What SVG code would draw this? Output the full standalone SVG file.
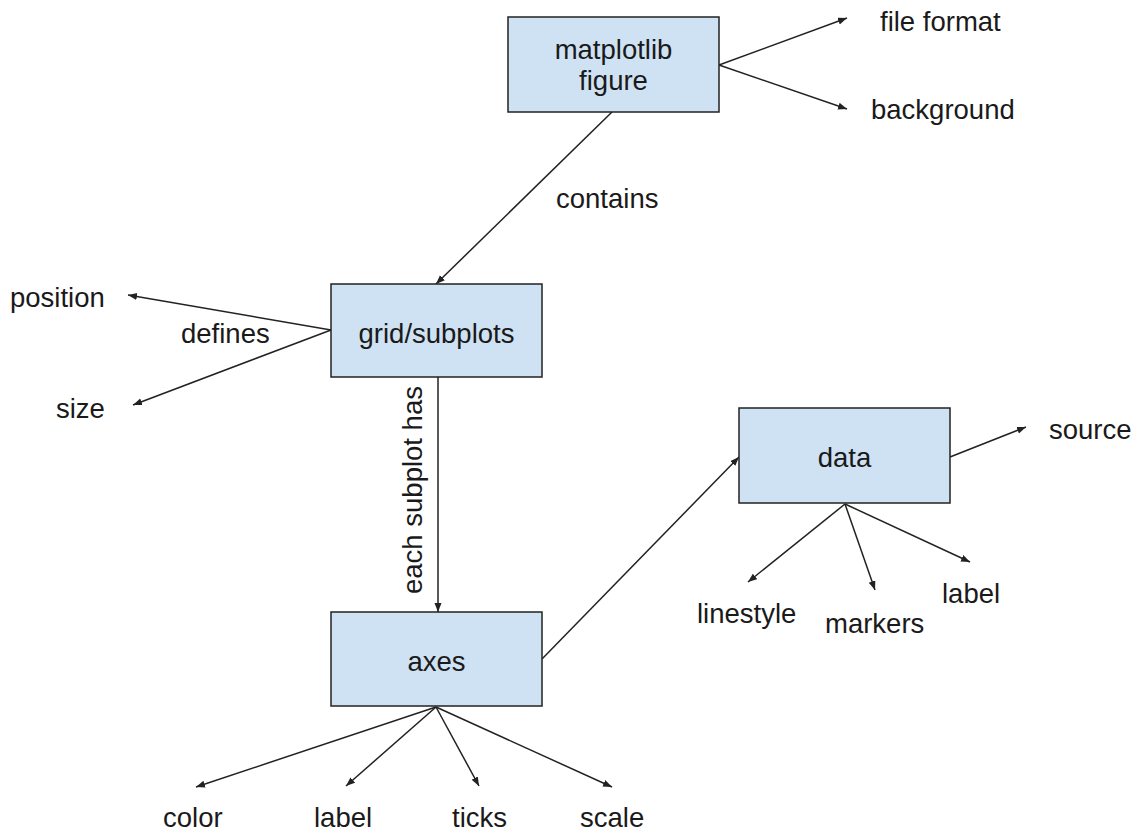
<svg xmlns="http://www.w3.org/2000/svg" width="1141" height="835" viewBox="0 0 1141 835">
<style>
.box{fill:#cfe2f3;stroke:#222;stroke-width:1.5}
.t{font-family:"Liberation Sans",Arial,sans-serif;font-size:27.5px;fill:#1a1a1a}
.c{text-anchor:middle}
.ln{stroke:#222;stroke-width:1.5;fill:none;marker-end:url(#ah)}
</style>
<defs>
<marker id="ah" markerUnits="userSpaceOnUse" markerWidth="10" markerHeight="8" refX="9" refY="3.5" orient="auto">
<path d="M0,0 L9,3.5 L0,7 z" fill="#222"/>
</marker>
</defs>
<rect width="1141" height="835" fill="#fff"/>
<g id="connectors">
<line class="ln" x1="719" y1="65" x2="847" y2="18"/>
<line class="ln" x1="719" y1="65" x2="847" y2="109"/>
<line class="ln" x1="612" y1="112" x2="436" y2="284"/>
<line class="ln" x1="331" y1="330" x2="128" y2="295"/>
<line class="ln" x1="331" y1="330" x2="133" y2="405"/>
<line class="ln" x1="438" y1="377" x2="438" y2="612"/>
<line class="ln" x1="542" y1="659" x2="739" y2="457"/>
<line class="ln" x1="950" y1="457" x2="1026" y2="427"/>
<line class="ln" x1="845" y1="504" x2="748" y2="582"/>
<line class="ln" x1="845" y1="504" x2="875" y2="590"/>
<line class="ln" x1="845" y1="504" x2="970" y2="562"/>
<line class="ln" x1="436" y1="707" x2="196" y2="787"/>
<line class="ln" x1="436" y1="707" x2="346" y2="786"/>
<line class="ln" x1="436" y1="707" x2="479" y2="786"/>
<line class="ln" x1="436" y1="707" x2="612" y2="787"/>
<text class="t" x="556" y="208">contains</text>
<text class="t" x="181" y="343">defines</text>
<text class="t c" transform="translate(422,490) rotate(-90)">each subplot has</text>
</g>
<g id="figure">
<rect class="box" x="508" y="17" width="211" height="95"/>
<text class="t c" x="613.5" y="59">matplotlib</text>
<text class="t c" x="613.5" y="90">figure</text>
</g>
<g id="fileformat"><text class="t" x="880" y="31">file format</text></g>
<g id="background"><text class="t" x="871" y="119">background</text></g>
<g id="grid">
<rect class="box" x="331" y="284" width="211" height="93"/>
<text class="t c" x="436.5" y="343">grid/subplots</text>
</g>
<g id="position"><text class="t" x="10" y="307">position</text></g>
<g id="size"><text class="t" x="56" y="418">size</text></g>
<g id="axes">
<rect class="box" x="331" y="612" width="211" height="94"/>
<text class="t c" x="436.5" y="671">axes</text>
</g>
<g id="data">
<rect class="box" x="739" y="408" width="211" height="95"/>
<text class="t c" x="844.5" y="467">data</text>
</g>
<g id="source"><text class="t" x="1049" y="439">source</text></g>
<g id="linestyle"><text class="t" x="697" y="623">linestyle</text></g>
<g id="markers"><text class="t" x="825" y="633">markers</text></g>
<g id="datalabel"><text class="t" x="942" y="603">label</text></g>
<g id="color"><text class="t" x="163" y="827">color</text></g>
<g id="axlabel"><text class="t" x="314" y="827">label</text></g>
<g id="ticks"><text class="t" x="452" y="827">ticks</text></g>
<g id="scale"><text class="t" x="580" y="827">scale</text></g>
</svg>
